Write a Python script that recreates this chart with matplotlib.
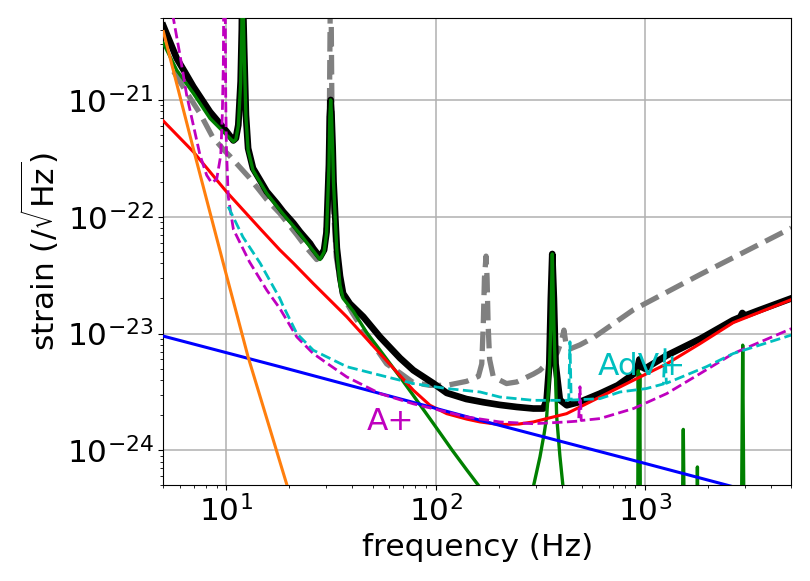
import numpy as np
import matplotlib
matplotlib.use('Agg')
import matplotlib.pyplot as plt

# total noise (black)
total_f = [5, 5.5, 5.79, 6.3, 6.95, 7.6, 8.35, 9.2, 10.03, 10.5, 10.8, 11.1, 11.4, 11.7, 11.85,
           11.96, 12.06, 12.16, 12.4, 12.7, 13.4, 14.5, 15.6, 17.4, 18.7, 20.9, 22.5, 25.1, 26.0,
           28.0, 29.3, 30.1, 30.9, 31.2, 31.5, 31.8, 32.2, 32.5, 33.7, 34.9, 36.1, 38.9, 45.1,
           54.2, 67.6, 78.2, 97.4, 112.9, 140, 169, 202, 244, 293, 327, 339, 349, 355, 360.6,
           367, 374, 392, 423, 489, 609, 740, 882, 920, 940, 960, 1000, 1272, 1836, 2632,
           2850, 2918, 2990, 3500, 5000]
total_h = [4.3e-21, 2.84e-21, 2.27e-21, 1.76e-21, 1.30e-21, 1.02e-21, 7.9e-22, 6.43e-22, 5.35e-22,
           4.8e-22, 4.5e-22, 4.7e-22, 6.1e-22, 1.44e-21, 4.0e-21, 2.0e-20, 5.0e-21, 2.7e-21,
           7.4e-22, 3.85e-22, 2.6e-22, 2.05e-22, 1.64e-22, 1.3e-22, 1.1e-22, 8.8e-23, 7.4e-23,
           5.9e-23, 5.35e-23, 4.5e-23, 5.2e-23, 7.4e-23, 2.77e-22, 7.4e-22, 1.0e-21, 7.4e-22,
           3.85e-22, 2.0e-22, 5.4e-23, 3.1e-23, 2.2e-23, 1.8e-23, 1.39e-23, 9.35e-24, 6.15e-24,
           4.85e-24, 3.75e-24, 3.1e-24, 2.75e-24, 2.58e-24, 2.45e-24, 2.35e-24, 2.28e-24,
           2.28e-24, 2.7e-24, 5.5e-24, 2.0e-23, 4.8e-23, 2.0e-23, 5.5e-24, 2.7e-24, 2.43e-24,
           2.6e-24, 3.06e-24, 3.6e-24, 4.5e-24, 5.0e-24, 6.0e-24, 5.2e-24, 5.0e-24, 6.5e-24,
           9.0e-24, 1.3e-23, 1.38e-23, 1.5e-23, 1.42e-23, 1.58e-23, 2.0e-23]

# suspension thermal (green)
susp_f = [5, 5.79, 6.95, 8.35, 10.03, 10.8, 11.1, 11.4, 11.7, 11.85, 11.96, 12.06, 12.16, 12.4,
          12.7, 13.4, 15.6, 18.7, 22.5, 26.0, 28.0, 29.3, 30.1, 30.9, 31.2, 31.5, 31.8, 32.2,
          32.5, 33.7, 34.9, 36.1, 40.4, 46.8, 54.2, 67.5, 78.2, 97.4, 120, 140.7, 163, 200, 250,
          293, 315, 330, 339, 348, 355, 360.6, 367, 374, 378.6, 392, 406, 440, 600, 900, 922,
          929, 937, 944, 952, 1500, 1524, 1548, 1760, 1780, 1800, 2880, 2930, 2980, 5000]
susp_h = [3.06e-21, 1.8e-21, 1.14e-21, 6.95e-22, 5.0e-22, 4.4e-22, 4.6e-22, 6.0e-22, 1.4e-21,
          4.0e-21, 2.0e-20, 5.0e-21, 2.6e-21, 7.2e-22, 3.7e-22, 2.5e-22, 1.58e-22, 1.05e-22,
          7.1e-23, 5.1e-23, 4.3e-23, 5.0e-23, 7.2e-23, 2.7e-22, 7.2e-22, 1.0e-21, 7.2e-22,
          3.7e-22, 1.95e-22, 5.2e-23, 2.6e-23, 2.0e-23, 1.55e-23, 1.02e-23, 7.2e-24, 4.25e-24,
          2.95e-24, 1.7e-24, 1.0e-24, 6.8e-25, 4.8e-25, 2.9e-25, 2.6e-25, 4.9e-25, 8.8e-25,
          1.4e-24, 1.93e-24, 4.0e-24, 1.2e-23, 4.8e-23, 1.2e-23, 4.0e-24, 1.93e-24, 9.0e-25,
          4.85e-25, 2.5e-25, 1.2e-25, 1.0e-25, 1.5e-25, 4.8e-24, 8.0e-25, 4.5e-24, 1.5e-25,
          1.0e-25, 1.51e-24, 1.0e-25, 1.0e-25, 7.2e-25, 1.0e-25, 1.0e-25, 7.95e-24, 1.0e-25,
          1.0e-25]

# quantum (red)
quant_f = [5, 6.95, 10.03, 14.5, 18.0, 20.9, 26.0, 37.6, 54.2, 78.2, 93.9, 112.9, 140.7, 162.9,
           202.5, 250, 292.6, 422, 609, 880, 1270, 1834, 2640, 5000]
quant_h = [6.6e-22, 3.6e-22, 1.63e-22, 7.9e-23, 5.2e-23, 4.0e-23, 2.68e-23, 1.39e-23, 6.74e-24,
           3.27e-24, 2.43e-24, 2.06e-24, 1.85e-24, 1.75e-24, 1.66e-24, 1.68e-24, 1.75e-24,
           2.06e-24, 2.86e-24, 3.98e-24, 5.5e-24, 8.2e-24, 1.24e-23, 1.95e-23]

# coating thermal (blue)
coat_f = [5, 18, 162.9, 882, 5000]
coat_h = [9.5e-24, 5.2e-24, 1.81e-24, 8.2e-25, 3.6e-25]

# seismic (orange)
seis_f = [5, 7.08, 9.67, 12.7, 19.6, 25]
seis_h = [3.85e-21, 3.37e-22, 3.98e-23, 6.3e-24, 4.85e-25, 1.16e-25]

# reference design (grey dashed)
ref_f = [5.6, 6.2, 7.5, 8.6, 9.9, 10.4, 11.5, 12.9, 15.6, 18.0, 18.7, 21.7, 24.0, 27.0, 29.5,
         30.5, 31.0, 31.5, 32.0, 32.5, 33.5, 36.0, 40.0, 45.1, 58.3, 67.5, 78.2, 93.9, 113,
         140.7, 160, 166, 168.8, 171, 174, 176, 178, 181, 188.5, 218, 244, 293, 315, 352, 380,
         398, 410, 420, 440, 489, 566, 882, 1834, 5000]
ref_h = [1.75e-21, 1.3e-21, 7.6e-22, 4.8e-22, 3.6e-22, 3.3e-22, 2.7e-22, 2.15e-22, 1.4e-22,
         1.07e-22, 9.8e-23, 7.0e-23, 5.5e-23, 4.3e-23, 5.5e-23, 1.2e-22, 5e-22, 2e-20, 5e-22,
         1.2e-22, 4.5e-23, 2.1e-23, 1.5e-23, 1.07e-23, 5.5e-24, 4.6e-24, 3.8e-24, 3.6e-24,
         3.6e-24, 3.9e-24, 4.3e-24, 5.5e-24, 1.2e-23, 3e-23, 4.6e-23, 3e-23, 1.2e-23, 6e-24,
         4.25e-24, 3.73e-24, 3.85e-24, 4.5e-24, 4.85e-24, 5.9e-24, 6.8e-24, 8.5e-24, 1.07e-23,
         8.0e-24, 7.4e-24, 8.0e-24, 9.2e-24, 1.6e-23, 3.2e-23, 8.0e-23]

# AdV+ (cyan dashed)
advp_f = [10.2, 12.0, 14.5, 17.0, 18.0, 18.6, 21.7, 26.0, 37.6, 54.2, 78.2, 112.9, 162.9, 202.5,
          292.6, 422, 432, 438, 444, 460, 609, 760, 1016, 1225, 1246, 1265, 1372, 1966, 2640, 5000]
advp_h = [1.22e-22, 6.7e-23, 4.0e-23, 2.4e-23, 2.0e-23, 1.75e-23, 1.0e-23, 7.2e-24, 5.2e-24,
          4.4e-24, 3.73e-24, 3.38e-24, 3.16e-24, 2.86e-24, 2.68e-24, 2.68e-24, 2.7e-24, 8.5e-24,
          2.7e-24, 2.7e-24, 2.77e-24, 3.16e-24, 3.38e-24, 3.7e-24, 7.5e-24, 3.75e-24, 3.98e-24,
          5.2e-24, 6.74e-24, 9.7e-24]

# A+ (magenta dashed)
ap_f = [5.3, 5.58, 6.0, 6.46, 6.95, 7.48, 8.05, 8.5, 8.99, 9.4, 9.56, 9.67, 9.8, 9.93, 10.0,
        10.2, 10.4, 10.8, 12.9, 15.6, 18.0, 21.7, 26.0, 30.1, 37.6, 54.2, 78.2, 104.8, 140.7,
        202.5, 292.6, 422, 482, 489, 496, 609, 882, 1270, 1834, 2640, 5000]
ap_h = [2e-20, 5e-21, 2.43e-21, 1.1e-21, 6.1e-22, 3.37e-22, 2.27e-22, 1.95e-22, 2.1e-22, 3.37e-22,
        7.4e-22, 2e-21, 1e-19, 1.0e-21, 4.0e-22, 1.5e-22, 1.2e-22, 7.8e-23, 4.1e-23, 2.35e-23,
        1.64e-23, 9.35e-24, 6.74e-24, 5.6e-24, 4.25e-24, 3.06e-24, 2.5e-24, 2.2e-24, 1.93e-24,
        1.75e-24, 1.69e-24, 1.75e-24, 1.78e-24, 3.5e-24, 1.8e-24, 1.87e-24, 2.28e-24, 3.06e-24,
        4.54e-24, 6.74e-24, 1.1e-23]

fs = 22.5

fig = plt.figure(figsize=(8.1, 5.81), dpi=100)
ax = fig.add_axes([0.2017, 0.1644, 0.7752, 0.8041])

ax.loglog(ref_f, ref_h, '--', color='grey', lw=3.8, zorder=2)
ax.loglog(total_f, total_h, color='k', lw=4.8, zorder=3)
ax.loglog(susp_f, susp_h, color='green', lw=2.4, zorder=4)
ax.loglog(quant_f, quant_h, color='red', lw=2.2, zorder=5)
ax.loglog(coat_f, coat_h, color='blue', lw=2.2, zorder=5)
ax.loglog(seis_f, seis_h, color='C1', lw=2.2, zorder=5)
ax.loglog(ap_f, ap_h, '--', color='m', lw=2.0, zorder=6)
ax.loglog(advp_f, advp_h, '--', color='c', lw=2.0, zorder=6)

ax.text(596, 4.39e-24, 'AdV+', color='c', fontsize=fs, zorder=7)
ax.text(46.8, 1.48e-24, 'A+', color='m', fontsize=fs, zorder=7)

ax.set_xlim(5, 5000)
ax.set_ylim(5e-25, 5e-21)
ax.grid(True, which='major', lw=1.1)
ax.tick_params(labelsize=fs)
ax.set_xlabel('frequency (Hz)', fontsize=fs)
ax.set_ylabel(r'strain (/$\sqrt{\mathrm{Hz}}$)', fontsize=fs)

fig.savefig('out.png', dpi=100)
